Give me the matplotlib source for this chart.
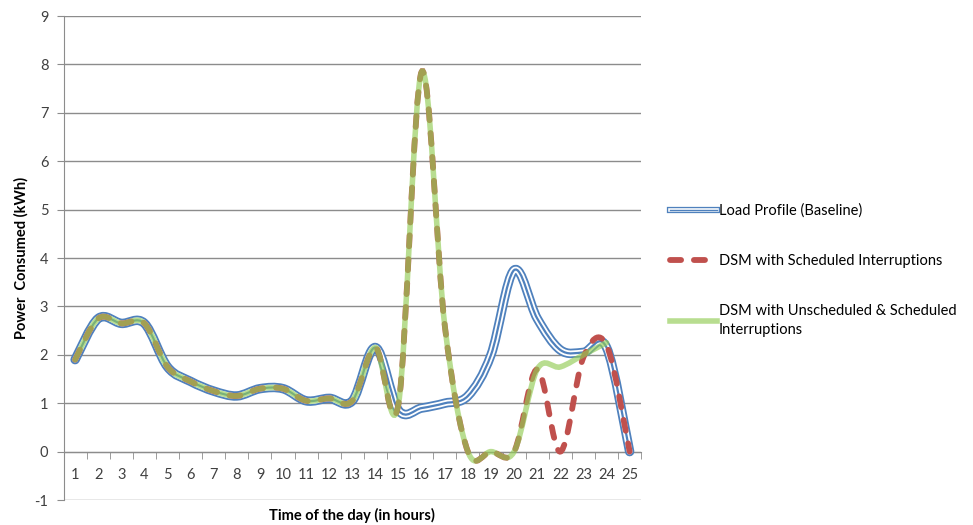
import matplotlib
matplotlib.use('Agg')
import matplotlib.pyplot as plt
import numpy as np
from matplotlib.path import Path
from matplotlib.patches import PathPatch
from matplotlib.lines import Line2D

plt.rcParams['font.family'] = ['Lato', 'DejaVu Sans']
plt.rcParams['axes.unicode_minus'] = False

# hours of the day (category axis)
hours = list(range(1, 26))

# values (kWh)
baseline = [1.9, 2.75, 2.65, 2.65, 1.75, 1.45, 1.25, 1.15, 1.3, 1.3, 1.05, 1.1, 1.05,
            2.15, 0.85, 0.9, 1.0, 1.15, 2.0, 3.75, 2.75, 2.1, 2.05, 2.15, 0.0]
dsm_sched = [1.9, 2.75, 2.65, 2.65, 1.75, 1.45, 1.25, 1.15, 1.3, 1.3, 1.05, 1.1, 1.05,
             2.15, 1.0, 7.85, 2.6, 0.0, 0.0, 0.0, 1.7, 0.0, 1.95, 2.2, 0.0]
dsm_unsched = [1.9, 2.75, 2.65, 2.65, 1.75, 1.45, 1.25, 1.15, 1.3, 1.3, 1.05, 1.1, 1.05,
               2.15, 1.0, 7.85, 2.6, 0.0, 0.0, 0.0, 1.7, 1.75, 2.0, 2.25, np.nan]

labels = ['Load Profile (Baseline)', 'DSM with Scheduled Interruptions',
          'DSM with Unscheduled & Scheduled\nInterruptions']


def smooth_path(xs, ys):
    # Excel-style smoothed line: cubic bezier through every point (Catmull-Rom)
    pts = np.array([(x, y) for x, y in zip(xs, ys) if not np.isnan(y)], dtype=float)
    n = len(pts)
    verts = [pts[0]]
    codes = [Path.MOVETO]
    for i in range(n - 1):
        p0 = pts[i - 1] if i > 0 else pts[i]
        p1 = pts[i]
        p2 = pts[i + 1]
        p3 = pts[i + 2] if i + 2 < n else pts[i + 1]
        c1 = p1 + (p2 - p0) / 6.0
        c2 = p2 - (p3 - p1) / 6.0
        verts += [c1, c2, p2]
        codes += [Path.CURVE4] * 3
    return Path(verts, codes)


blue = '#4F81BD'
red = '#C0504D'
green = '#92CC55'

fig = plt.figure(figsize=(9.73, 5.25), dpi=100)
ax = fig.add_axes([0.0653, 0.0476, 0.5937, 0.9219])

# baseline: compound line (blue / white / blue)
for lw, col in [(6.8, blue), (4.2, 'white'), (1.6, blue)]:
    ax.add_patch(PathPatch(smooth_path(hours, baseline), fill=False, lw=lw,
                           edgecolor=col, capstyle='round', joinstyle='round', zorder=3))

ax.add_patch(PathPatch(smooth_path(hours, dsm_sched), fill=False, lw=4.2, edgecolor=red,
                       linestyle=(0, (1.9, 2.2)), capstyle='round', zorder=4))
ax.add_patch(PathPatch(smooth_path(hours, dsm_unsched), fill=False, lw=4.0, edgecolor=green,
                       alpha=0.65, capstyle='round', zorder=5))

ax.set_xlim(0.5, 25.5)
ax.set_ylim(-1, 9)
ax.set_yticks(range(-1, 10))
ax.set_xticks(hours)
ax.set_xticks(np.arange(0.5, 26, 1), minor=True)
ax.grid(axis='y', color='#8C8C8C', lw=1)
ax.set_axisbelow(True)

for s in ['top', 'right']:
    ax.spines[s].set_visible(False)
ax.spines['bottom'].set_position(('data', 0))
ax.spines['bottom'].set_color('#8C8C8C')
ax.spines['left'].set_color('#8C8C8C')
ax.tick_params(axis='x', which='major', length=0, pad=12, labelsize=10.5, labelcolor='#404040')
ax.tick_params(axis='x', which='minor', length=5, color='#8C8C8C')
ax.tick_params(axis='y', length=5, color='#8C8C8C', labelsize=10.5, labelcolor='#404040', pad=6)

fig.text(0.362, 0.019, 'Time of the day (in hours)', fontsize=10.5, fontweight='bold',
         ha='center', va='center')
ax.set_ylabel('Power  Consumed (kWh)', fontsize=10.5, fontweight='bold', labelpad=4)

h_blue = (Line2D([], [], color=blue, lw=4.5), Line2D([], [], color='white', lw=2.6),
          Line2D([], [], color=blue, lw=1.0))
h_red = Line2D([], [], color=red, lw=4.2, linestyle=(0, (1.9, 2.2)), dash_capstyle='round')
h_green = Line2D([], [], color=green, lw=4.0, alpha=0.65)
leg = fig.legend([h_blue, h_red, h_green], labels, loc='upper left',
                 bbox_to_anchor=(0.675, 0.637), frameon=False, fontsize=10.5,
                 handlelength=3.2, handletextpad=0.15, labelspacing=2.45)
for t in leg.get_texts():
    t.set_linespacing(1.5)

fig.savefig('out.png', dpi=100)
